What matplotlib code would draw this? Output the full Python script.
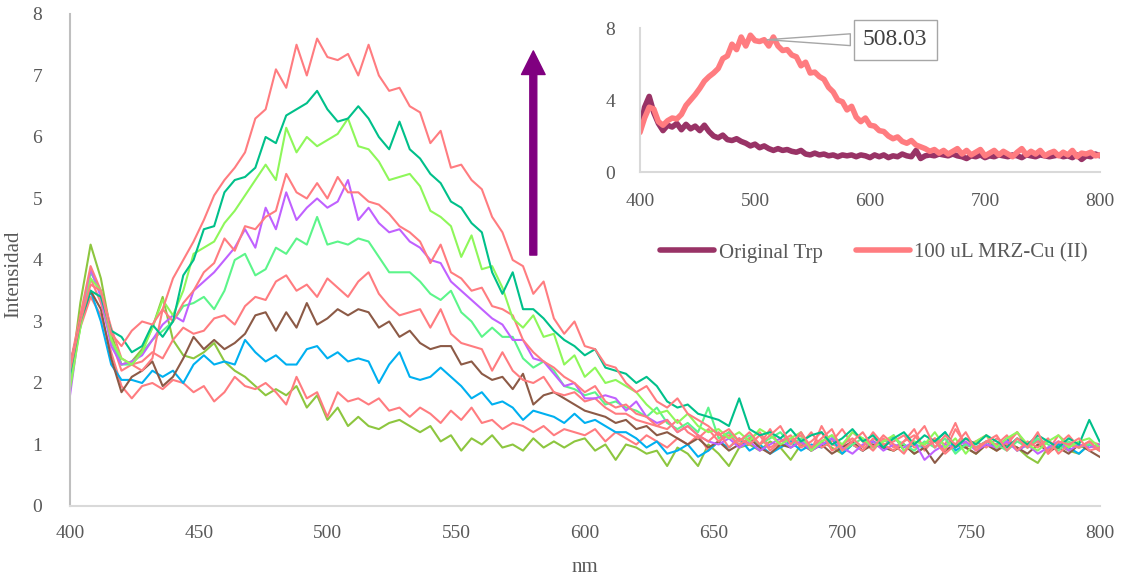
import matplotlib
matplotlib.use("Agg")
import matplotlib.pyplot as plt

plt.rcParams['font.family'] = ['Liberation Serif', 'DejaVu Serif']

# wavelength grid (nm), one reading every 4 nm
wl = list(range(400, 801, 4))

# emission spectra, one list per addition
mrz_100 = [2.2, 3.0, 3.6, 3.5, 2.8, 2.6, 2.85, 3.0, 2.95, 3.2,
           3.7, 4.0, 4.3, 4.65, 5.05, 5.3, 5.5, 5.75, 6.3, 6.45,
           7.1, 6.8, 7.5, 7.0, 7.6, 7.3, 7.25, 7.35, 7.0, 7.5,
           7.0, 6.75, 6.8, 6.5, 6.4, 5.9, 6.1, 5.5, 5.55, 5.3,
           5.15, 4.7, 4.45, 4.0, 3.9, 3.45, 3.65, 3.05, 2.8, 3.0,
           2.6, 2.55, 2.3, 2.25, 2.0, 1.85, 1.95, 1.7, 1.6, 1.75,
           1.5, 1.4, 1.3, 1.15, 1.25, 1.05, 1.2, 1.0, 1.15, 1.3,
           1.0, 1.2, 0.95, 1.1, 1.25, 0.9, 1.05, 1.2, 0.95, 1.15,
           1.0, 0.85, 1.1, 1.3, 0.95, 1.15, 1.0, 1.2, 0.9, 1.05,
           1.15, 0.9, 1.1, 0.95, 1.2, 0.85, 1.05, 1.0, 1.1, 0.9,
           0.95]
mrz_90 = [2.15, 3.0, 3.5, 3.4, 2.85, 2.75, 2.5, 2.6, 2.95, 2.75,
          3.0, 3.75, 4.0, 4.5, 4.55, 5.1, 5.3, 5.35, 5.5, 6.0,
          5.9, 6.35, 6.45, 6.55, 6.75, 6.45, 6.25, 6.3, 6.5, 6.3,
          6.0, 5.8, 6.25, 5.8, 5.65, 5.4, 5.25, 4.95, 4.85, 4.6,
          4.45, 3.8, 3.45, 3.8, 3.2, 3.2, 3.05, 2.85, 2.7, 2.6,
          2.45, 2.55, 2.25, 2.2, 2.15, 2.0, 2.1, 1.95, 1.7, 1.6,
          1.65, 1.5, 1.45, 1.4, 1.3, 1.75, 1.25, 1.15, 1.2, 1.1,
          1.25, 1.05, 1.15, 1.2, 1.0, 1.1, 1.25, 1.05, 1.15, 0.95,
          1.1, 1.2, 1.0, 1.15, 1.05, 1.2, 0.95, 1.1, 1.0, 1.15,
          1.05, 0.95, 1.1, 1.0, 1.15, 1.05, 0.95, 1.1, 1.0, 1.4,
          1.05]
mrz_80 = [1.9, 2.9, 3.7, 3.5, 2.7, 2.4, 2.3, 2.5, 2.9, 3.35,
          3.1, 3.5, 4.1, 4.2, 4.3, 4.6, 4.8, 5.05, 5.3, 5.55,
          5.3, 6.15, 5.75, 6.0, 5.85, 5.95, 6.05, 6.3, 5.85, 5.8,
          5.6, 5.3, 5.35, 5.4, 5.2, 4.8, 4.7, 4.55, 4.05, 4.4,
          3.85, 3.9, 3.55, 3.05, 2.9, 3.1, 2.75, 2.8, 2.3, 2.45,
          2.1, 2.25, 2.0, 2.05, 1.95, 1.85, 1.65, 1.5, 1.55, 1.35,
          1.5, 1.3, 1.2, 1.25, 1.1, 1.2, 1.05, 1.25, 1.15, 1.0,
          1.1, 1.2, 0.9, 1.05, 1.15, 1.0, 1.2, 1.1, 0.95, 1.05,
          1.15, 0.9, 1.05, 1.0, 1.2, 0.95, 1.1, 0.85, 1.05, 1.15,
          0.95, 1.1, 1.2, 1.0, 0.9, 1.05, 1.15, 0.95, 1.05, 1.1,
          0.95]
mrz_70 = [2.3, 3.1, 3.9, 3.5, 2.9, 2.4, 2.3, 2.2, 2.4, 3.2,
          3.0, 3.3, 3.5, 3.8, 3.95, 4.35, 4.15, 4.55, 4.5, 4.7,
          4.8, 5.4, 5.1, 5.0, 5.25, 5.0, 5.35, 5.1, 5.1, 4.95,
          4.9, 4.75, 4.55, 4.45, 4.3, 3.95, 4.25, 3.8, 3.7, 3.5,
          3.55, 3.25, 3.2, 3.1, 2.7, 2.5, 2.35, 2.25, 2.1, 2.0,
          1.85, 1.95, 1.7, 1.6, 1.65, 1.5, 1.45, 1.3, 1.4, 1.2,
          1.3, 1.15, 1.05, 1.2, 0.95, 1.1, 1.0, 1.15, 0.9, 1.05,
          1.15, 0.95, 1.05, 1.2, 0.9, 1.0, 1.1, 0.95, 1.2, 1.0,
          0.9, 1.05, 1.15, 0.95, 1.05, 0.85, 1.0, 1.1, 0.95, 1.05,
          1.0, 1.15, 0.9, 1.05, 0.95, 1.1, 0.85, 1.0, 0.95, 1.05,
          0.9]
mrz_60 = [1.8, 3.0, 3.85, 3.4, 2.6, 2.3, 2.35, 2.45, 2.7, 2.95,
          3.1, 3.0, 3.5, 3.65, 3.8, 4.0, 4.2, 4.5, 4.2, 4.85,
          4.5, 5.1, 4.65, 4.85, 5.0, 4.85, 4.95, 5.3, 4.65, 4.85,
          4.6, 4.45, 4.5, 4.3, 4.2, 4.0, 3.95, 3.65, 3.5, 3.35,
          3.2, 3.05, 2.95, 2.7, 2.7, 2.4, 2.35, 2.15, 1.95, 2.0,
          1.75, 1.75, 1.8, 1.75, 1.55, 1.7, 1.45, 1.35, 1.4, 1.2,
          1.3, 1.15, 1.05, 1.0, 1.1, 0.95, 1.05, 0.9, 1.0, 1.1,
          0.95, 1.05, 0.9, 1.0, 1.1, 0.95, 0.85, 1.0, 1.05, 0.9,
          1.0, 0.95, 1.05, 0.75, 0.9, 1.0, 0.95, 1.05, 0.9, 1.0,
          0.95, 1.05, 0.9, 1.0, 0.85, 0.95, 1.05, 0.9, 1.0, 0.95,
          1.0]
mrz_50 = [2.0, 2.9, 3.8, 3.5, 2.7, 2.3, 2.3, 2.5, 2.7, 2.85,
          3.0, 3.25, 3.3, 3.4, 3.2, 3.5, 4.0, 4.1, 3.75, 3.85,
          4.2, 4.1, 4.35, 4.25, 4.7, 4.25, 4.3, 4.25, 4.35, 4.3,
          4.05, 3.8, 3.8, 3.8, 3.65, 3.45, 3.35, 3.5, 3.15, 3.0,
          2.75, 2.9, 2.75, 2.75, 2.4, 2.25, 2.35, 2.2, 1.95, 1.9,
          1.8, 1.85, 1.65, 1.7, 1.6, 1.55, 1.45, 1.6, 1.35, 1.25,
          1.35, 1.2, 1.6, 1.1, 1.2, 1.05, 1.15, 1.0, 1.1, 1.2,
          1.0, 1.1, 0.95, 1.05, 1.15, 0.9, 1.0, 1.1, 0.95, 1.05,
          1.1, 1.0, 0.9, 1.05, 0.95, 1.1, 0.85, 1.0, 0.95, 1.05,
          1.0, 0.9, 1.05, 0.95, 1.1, 1.0, 0.9, 1.05, 0.95, 1.0,
          0.95]
mrz_40 = [2.2, 3.0, 3.7, 3.3, 2.7, 2.2, 2.3, 2.35, 2.5, 2.4,
          2.7, 2.9, 2.8, 2.85, 3.05, 3.1, 2.95, 3.25, 3.4, 3.35,
          3.65, 3.75, 3.5, 3.6, 3.4, 3.7, 3.55, 3.4, 3.65, 3.8,
          3.45, 3.25, 3.1, 3.15, 3.2, 2.9, 3.2, 2.8, 2.65, 2.6,
          2.55, 2.2, 2.5, 2.2, 2.05, 2.0, 2.1, 1.85, 1.8, 1.85,
          1.7, 1.75, 1.6, 1.5, 1.5, 1.4, 1.35, 1.3, 1.25, 1.4,
          1.2, 1.1, 1.25, 1.05, 1.15, 1.0, 1.1, 1.2, 0.95, 1.05,
          1.1, 1.0, 1.2, 0.95, 1.05, 1.25, 1.0, 0.9, 1.1, 1.0,
          1.05, 1.15, 0.95, 1.0, 1.1, 0.9, 1.25, 1.0, 1.05, 0.95,
          1.1, 1.0, 1.2, 0.95, 1.05, 0.9, 1.15, 1.0, 0.95, 1.05,
          1.0]
mrz_30 = [2.3, 3.0, 3.5, 3.2, 2.4, 1.85, 2.1, 2.2, 2.35, 1.95,
          2.1, 2.4, 2.75, 2.55, 2.7, 2.55, 2.65, 2.8, 3.1, 3.15,
          2.85, 3.15, 2.9, 3.3, 2.95, 3.05, 3.2, 3.1, 3.2, 3.15,
          2.9, 3.0, 2.75, 2.85, 2.65, 2.55, 2.6, 2.6, 2.3, 2.35,
          2.15, 2.05, 2.1, 1.9, 2.15, 1.65, 1.8, 1.85, 1.75, 1.65,
          1.55, 1.5, 1.45, 1.35, 1.4, 1.25, 1.3, 1.15, 1.2, 1.1,
          1.0, 1.1, 0.95, 1.05, 0.9, 1.0, 1.1, 0.95, 0.85, 1.0,
          0.95, 1.05, 0.9, 1.0, 0.85, 0.95, 1.05, 0.9, 1.0, 0.95,
          0.9, 1.0, 0.85, 0.95, 0.7, 0.9, 1.0, 0.95, 0.85, 1.0,
          0.9, 1.0, 0.95, 0.85, 1.0, 0.9, 0.95, 0.85, 1.0, 0.9,
          0.8]
mrz_20 = [2.3, 3.0, 3.5, 3.0, 2.3, 2.05, 2.05, 2.0, 2.2, 2.1,
          2.2, 2.0, 2.3, 2.45, 2.3, 2.35, 2.3, 2.7, 2.5, 2.35,
          2.45, 2.3, 2.3, 2.55, 2.6, 2.4, 2.5, 2.35, 2.4, 2.35,
          2.0, 2.3, 2.5, 2.1, 2.05, 2.1, 2.25, 2.1, 1.95, 1.75,
          1.85, 1.65, 1.7, 1.6, 1.4, 1.55, 1.5, 1.45, 1.35, 1.5,
          1.35, 1.4, 1.3, 1.2, 1.2, 1.1, 0.95, 1.05, 0.85, 0.9,
          1.0, 0.8, 0.9, 1.05, 0.95, 1.1, 0.9, 1.0, 0.85, 0.95,
          1.05, 0.9, 1.0, 0.95, 1.1, 0.85, 1.0, 0.9, 1.05, 0.95,
          1.15, 0.9, 1.0, 0.95, 1.05, 1.2, 0.9, 1.0, 0.95, 1.05,
          0.95, 1.1, 0.9, 1.0, 1.05, 0.9, 1.0, 0.95, 0.85, 1.0,
          0.95]
mrz_10 = [2.1, 2.9, 3.4, 3.1, 2.5, 1.95, 1.75, 1.95, 2.0, 1.9,
          2.05, 2.0, 1.85, 1.95, 1.7, 1.85, 2.1, 1.95, 1.9, 2.0,
          1.85, 1.65, 2.1, 1.75, 1.85, 1.45, 1.85, 1.7, 1.75, 1.65,
          1.75, 1.55, 1.6, 1.45, 1.6, 1.5, 1.35, 1.55, 1.4, 1.6,
          1.35, 1.4, 1.25, 1.35, 1.3, 1.2, 1.3, 1.15, 1.25, 1.2,
          1.15, 1.25, 1.05, 1.2, 1.1, 1.0, 1.15, 1.05, 0.95, 1.1,
          1.0, 1.15, 0.9, 1.05, 1.2, 0.95, 1.1, 1.0, 1.25, 0.95,
          1.05, 1.15, 0.9, 1.3, 1.0, 0.95, 1.2, 1.05, 0.9, 1.1,
          0.95, 1.05, 1.25, 0.9, 1.1, 1.0, 1.35, 0.95, 1.05, 1.15,
          0.9, 1.05, 1.2, 0.95, 1.1, 0.85, 1.0, 1.15, 0.95, 1.0,
          0.9]
mrz_0 = [2.0, 3.3, 4.25, 3.7, 2.8, 2.3, 2.35, 2.55, 2.9, 3.4,
         2.7, 2.45, 2.4, 2.5, 2.65, 2.35, 2.2, 2.1, 1.95, 1.8,
         1.9, 1.8, 1.95, 1.6, 1.8, 1.4, 1.6, 1.3, 1.45, 1.3,
         1.25, 1.35, 1.4, 1.3, 1.2, 1.3, 1.05, 1.15, 0.9, 1.1,
         1.0, 1.15, 0.95, 1.0, 0.9, 1.1, 0.95, 1.05, 0.95, 1.05,
         1.1, 0.9, 1.0, 0.75, 1.0, 0.95, 0.85, 0.9, 0.65, 0.95,
         0.85, 0.65, 1.0, 0.85, 0.65, 0.95, 1.0, 0.9, 1.05, 0.95,
         0.75, 1.0, 0.9, 1.05, 0.95, 0.85, 1.0, 0.9, 1.05, 0.95,
         0.9, 1.0, 0.85, 0.95, 1.05, 0.9, 1.0, 0.95, 0.85, 1.0,
         0.9, 1.05, 0.95, 0.8, 0.7, 0.95, 1.0, 0.9, 0.85, 1.0,
         0.9]

# free tryptophan, shown in the small panel
trp = [2.3, 3.6, 4.2, 3.3, 2.7, 2.3, 2.6, 2.5, 2.7, 2.35,
       2.65, 2.4, 2.55, 2.3, 2.6, 2.25, 2.0, 1.9, 2.05, 1.8,
       1.75, 1.85, 1.7, 1.6, 1.45, 1.55, 1.35, 1.45, 1.3, 1.2,
       1.3, 1.2, 1.25, 1.15, 1.1, 1.2, 1.0, 0.95, 1.05, 0.95,
       1.0, 0.9, 0.95, 0.85, 0.95, 0.9, 0.95, 0.85, 0.95, 0.9,
       0.8, 0.95, 0.85, 0.95, 0.8, 0.9, 0.85, 1.0, 0.9, 0.85,
       1.2, 0.75, 0.9, 0.95, 0.9, 1.0, 0.95, 0.9, 1.0, 0.9,
       0.85, 0.75, 0.9, 0.85, 0.95, 0.8, 0.9, 0.85, 0.95, 0.9,
       0.85, 0.95, 0.9, 0.8, 0.95, 0.9, 0.85, 0.95, 0.9, 0.85,
       0.9, 0.95, 0.85, 0.9, 0.8, 0.95, 0.7, 0.9, 0.85, 1.0,
       0.9]

peak_nm = 508.03
peak_val = 7.35

series = [
    (mrz_0, '#8DC63F'),
    (mrz_10, '#FF7C80'),
    (mrz_20, '#00B0F0'),
    (mrz_30, '#8C5A46'),
    (mrz_40, '#FF7C80'),
    (mrz_50, '#5CF58A'),
    (mrz_60, '#C061FF'),
    (mrz_70, '#FF7C80'),
    (mrz_80, '#8EF75A'),
    (mrz_90, '#00C08A'),
    (mrz_100, '#FF7C80'),
]

grey = '#595959'
fig = plt.figure(figsize=(11.22, 5.8), dpi=100)

# main panel
ax = fig.add_axes([0.0624, 0.1276, 0.9176, 0.8483])
for vals, col in series:
    ax.plot(wl, vals, color=col, lw=1.5, solid_joinstyle='round')

ax.set_xlim(400, 800)
ax.set_ylim(0, 8)
ax.set_xticks(range(400, 801, 50))
ax.set_yticks(range(0, 9))
ax.tick_params(length=0, labelsize=14, labelcolor=grey)
ax.tick_params(axis='x', pad=14)
ax.tick_params(axis='y', pad=20)
for side in ['top', 'right']:
    ax.spines[side].set_visible(False)
ax.spines['left'].set_color('#BFBFBF')
ax.spines['left'].set_linewidth(1.5)
ax.spines['bottom'].set_color('#D9D9D9')
ax.spines['bottom'].set_linewidth(1.5)
ax.set_xlabel('nm', fontsize=15, color=grey, labelpad=11)
ax.set_ylabel('Intensidad', fontsize=15, color=grey)
ax.yaxis.set_label_coords(-0.045, 0.47)

# arrow showing the rise with each addition
ax.annotate('', xy=(580, 7.4), xytext=(580, 4.08),
            arrowprops=dict(width=5, headwidth=17, headlength=17,
                            color='#800080', shrink=0))

# small panel: before and after
ins = fig.add_axes([0.5704, 0.7034, 0.41, 0.2483])
l1, = ins.plot(wl, trp, color='#993366', lw=4, solid_capstyle='round',
               solid_joinstyle='round', label='Original Trp')
l2, = ins.plot(wl, mrz_100, color='#FF7C80', lw=4, solid_capstyle='round',
               solid_joinstyle='round', label='100 uL MRZ-Cu (II)')
ins.set_xlim(400, 800)
ins.set_ylim(0, 8)
ins.set_xticks(range(400, 801, 100))
ins.set_yticks([0, 4, 8])
ins.tick_params(length=0, labelsize=14, labelcolor=grey)
ins.tick_params(axis='x', pad=15)
ins.tick_params(axis='y', pad=18)
for side in ['top', 'right']:
    ins.spines[side].set_visible(False)
ins.spines['left'].set_color('#D9D9D9')
ins.spines['bottom'].set_color('#D9D9D9')
ins.spines['left'].set_linewidth(1.5)
ins.spines['bottom'].set_linewidth(1.5)

ins.annotate(f'{peak_nm:.2f}', xy=(peak_nm, peak_val), xytext=(622, 7.35),
             fontsize=17, color='#404040', ha='center', va='center',
             bbox=dict(boxstyle='square,pad=0.4', fc='white', ec='#A6A6A6'),
             arrowprops=dict(arrowstyle='wedge,tail_width=0.5', fc='white',
                             ec='#A6A6A6', lw=1),
             annotation_clip=False)

fig.legend(handles=[l1, l2], loc='center', bbox_to_anchor=(0.779, 0.564),
           ncol=2, frameon=False, fontsize=15, handlelength=2.6,
           handletextpad=0.2, columnspacing=1.6, labelcolor=grey)

fig.savefig('out.png', dpi=100)
